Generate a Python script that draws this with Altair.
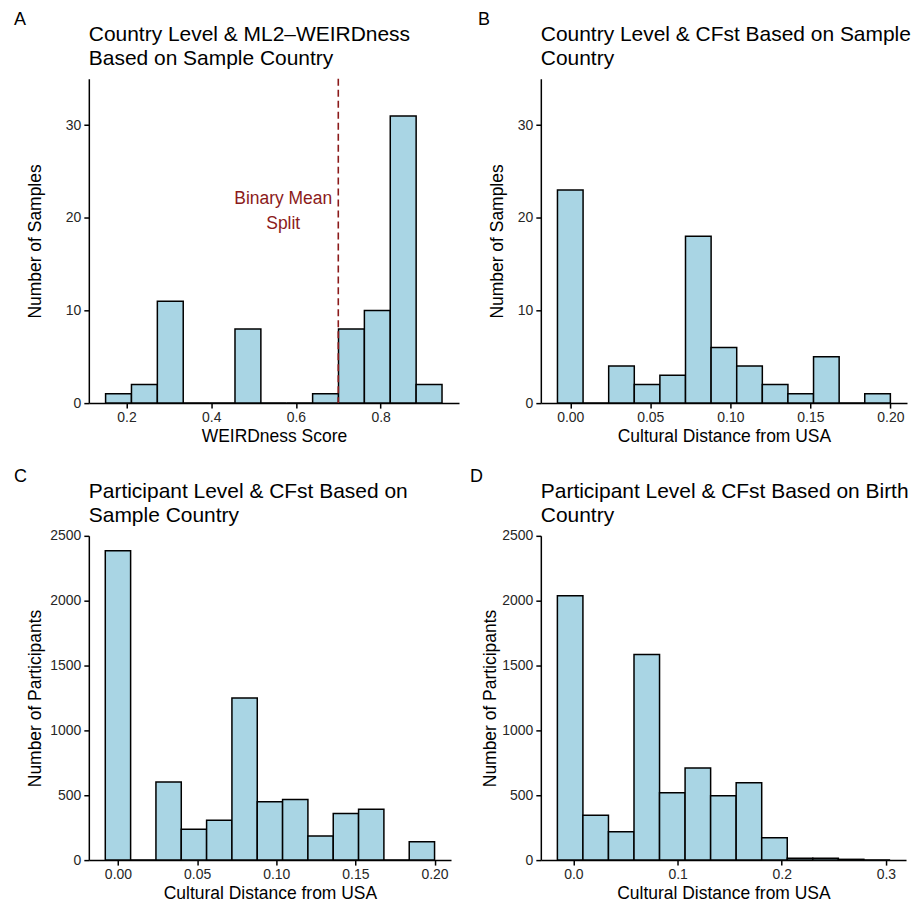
import altair as alt
import pandas as pd

FONT = "Liberation Sans"
FILL = "#A9D5E4"
RED = "#8B1A1A"
LABEL_COLOR = "#262626"

# ---- Panel A: Country level, WEIRDness score ----
a_counts = [1, 2, 11, 0, 0, 8, 0, 0, 1, 8, 10, 31, 2]
a_bin_start = 0.1506
a_bin_width = 0.0611
a_split = 0.7

# ---- Panel B: Country level, CFst (sample country) ----
b_counts = [23, 0, 4, 2, 3, 18, 6, 4, 2, 1, 5, 0, 1]
b_bin_start = -0.008
b_bin_width = 0.016

# ---- Panel C: Participant level, CFst (sample country) ----
c_counts = [2385, 0, 602, 238, 308, 1249, 449, 467, 185, 359, 392, 0, 141]
c_bin_start = -0.008
c_bin_width = 0.016

# ---- Panel D: Participant level, CFst (birth country) ----
d_counts = [2038, 346, 218, 1585, 520, 710, 497, 597, 172, 15, 14, 6, 1]
d_bin_start = -0.0154
d_bin_width = 0.02452

titles = {
    "A": ["Country Level & ML2\u2013WEIRDness", "Based on Sample Country"],
    "B": ["Country Level & CFst Based on Sample", "Country"],
    "C": ["Participant Level & CFst Based on", "Sample Country"],
    "D": ["Participant Level & CFst Based on Birth", "Country"],
}


def bins_frame(counts, start, width):
    return pd.DataFrame({
        "x0": [start + i * width for i in range(len(counts))],
        "x1": [start + (i + 1) * width for i in range(len(counts))],
        "n": counts,
    })


def panel(letter, counts, start, width, xdom, xticks, xfmt, xtitle,
          ydom, yticks, ytitle, w, h, ytitle_x, letter_dx, extra=None):
    df = bins_frame(counts, start, width)
    xscale = alt.Scale(domain=xdom, nice=False, zero=False)
    yscale = alt.Scale(domain=ydom, nice=False, zero=True)
    xaxis = alt.Axis(values=xticks, format=xfmt, title=xtitle, grid=False,
                     domainColor="black", domainWidth=1.5, tickColor="black",
                     tickWidth=1.5, tickSize=5, labelPadding=2,
                     labelFont=FONT, labelFontSize=14, labelColor=LABEL_COLOR,
                     titleFont=FONT, titleFontSize=17.5, titleFontWeight="normal",
                     titleColor="black", titleY=38.5, titleBaseline="alphabetic")
    yaxis = alt.Axis(values=yticks, format="d", title=ytitle, grid=False,
                     domainColor="black", domainWidth=1.5, tickColor="black",
                     tickWidth=1.5, tickSize=5, labelPadding=3,
                     labelFont=FONT, labelFontSize=14, labelColor=LABEL_COLOR,
                     titleFont=FONT, titleFontSize=17.5, titleFontWeight="normal",
                     titleColor="black", titleX=ytitle_x, titleY=h / 2,
                     titleAngle=-90, titleAlign="center", titleBaseline="middle")
    bars = alt.Chart(df).mark_rect(fill=FILL, stroke="black", strokeWidth=1.5).encode(
        x=alt.X("x0:Q", scale=xscale, axis=xaxis),
        x2="x1:Q",
        y=alt.Y("n:Q", scale=yscale, axis=yaxis),
        y2=alt.datum(0),
    )
    lab = alt.Chart(pd.DataFrame({"t": [letter]})).mark_text(
        align="left", baseline="alphabetic", font=FONT, fontSize=18, color="black"
    ).encode(text="t:N", x=alt.value(letter_dx), y=alt.value(-54))
    ttl = alt.Chart(pd.DataFrame({"t": ["\n".join(titles[letter])]})).mark_text(
        align="left", baseline="alphabetic", font=FONT, fontSize=21, color="black",
        lineBreak="\n", lineHeight=24.5
    ).encode(text="t:N", x=alt.value(0), y=alt.value(-38))
    layers = [bars] + (extra or []) + [lab, ttl]
    return alt.layer(*layers).properties(width=w, height=h)


split_df = pd.DataFrame({"x": [a_split]})
split_rule = alt.Chart(split_df).mark_rule(
    color=RED, strokeWidth=1.6, strokeDash=[7, 4]
).encode(x="x:Q")
note_df = pd.DataFrame({"x": [0.57], "y": [22], "t": ["Binary Mean\nSplit"]})
split_note = alt.Chart(note_df).mark_text(
    font=FONT, fontSize=17.5, color=RED, align="center", baseline="middle",
    lineBreak="\n", lineHeight=25
).encode(x="x:Q", y="y:Q", text="t:N")

pA = panel("A", a_counts, a_bin_start, a_bin_width, [0.111, 0.985],
           [0.2, 0.4, 0.6, 0.8], ".1f", "WEIRDness Score",
           [0, 35], [0, 10, 20, 30], "Number of Samples", 371, 325, -53, -75,
           extra=[split_rule, split_note])
pB = panel("B", b_counts, b_bin_start, b_bin_width, [-0.0184, 0.2104],
           [0.0, 0.05, 0.1, 0.15, 0.2], ".2f", "Cultural Distance from USA",
           [0, 35], [0, 10, 20, 30], "Number of Samples", 367, 325, -43, -63)
pC = panel("C", c_counts, c_bin_start, c_bin_width, [-0.0184, 0.2104],
           [0.0, 0.05, 0.1, 0.15, 0.2], ".2f", "Cultural Distance from USA",
           [0, 2500], [0, 500, 1000, 1500, 2000, 2500], "Number of Participants",
           363, 325, -53, -75)
pD = panel("D", d_counts, d_bin_start, d_bin_width, [-0.0313, 0.3193],
           [0.0, 0.1, 0.2, 0.3], ".1f", "Cultural Distance from USA",
           [0, 2500], [0, 500, 1000, 1500, 2000, 2500], "Number of Participants",
           366, 325, -50, -71)

chart = alt.concat(
    pA, pB, pC, pD, columns=2,
    spacing={"row": 133, "column": 82}, bounds="flush",
).properties(
    padding={"left": 6, "top": 2, "right": 0, "bottom": 0},
    background="white",
).configure_view(stroke=None)

chart.save("out.html", embed_options={"renderer": "svg", "actions": False})
